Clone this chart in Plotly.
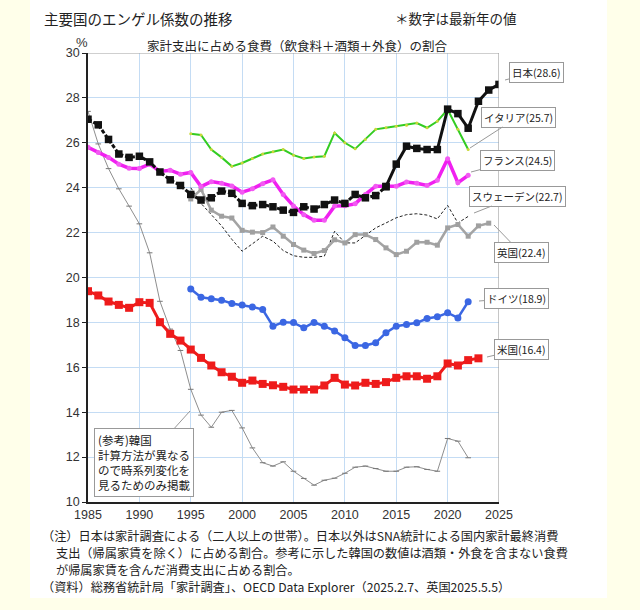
import plotly.graph_objects as go

# ---------------- data ----------------
years_jp = list(range(1985, 2026))
japan = [27.05, 26.8, 26.15, 25.5, 25.35, 25.4, 25.15, 24.7, 24.35, 24.1,
         23.7, 23.45, 23.55, 23.85, 23.75, 23.3, 23.2, 23.25, 23.15, 23.0,
         22.9, 23.15, 23.05, 23.25, 23.45, 23.3, 23.7, 23.55, 23.65, 24.05,
         25.05, 25.85, 25.75, 25.7, 25.7, 27.5, 27.3, 26.65, 27.85, 28.35, 28.6]
jp_split_year = 2014

years_it = list(range(1995, 2023))
italy = [26.4, 26.35, 25.7, 25.35, 24.95, 25.1, 25.3, 25.5, 25.6, 25.7,
         25.45, 25.3, 25.37, 25.4, 26.44, 26.0, 25.73, 26.15, 26.6, 26.67,
         26.74, 26.78, 26.88, 26.67, 26.96, 27.48, 26.6, 25.7]

years_fr = list(range(1985, 2023))
france = [25.8, 25.57, 25.35, 25.05, 24.87, 24.86, 25.05, 24.72, 24.78, 24.6,
          24.68, 24.05, 24.27, 24.2, 24.08, 23.8, 23.95, 24.18, 24.35, 23.7,
          23.18, 22.8, 22.55, 22.55, 23.18, 23.2, 23.28, 23.7, 24.07, 24.07,
          24.07, 24.25, 24.2, 24.1, 24.33, 25.29, 24.22, 24.55]

years_uk = list(range(1995, 2025))
uk = [23.5, 23.92, 23.0, 22.73, 22.65, 22.1, 22.02, 22.0, 22.25, 21.84,
      21.47, 21.22, 21.07, 21.2, 21.68, 21.54, 21.91, 21.91, 21.69, 21.32,
      21.02, 21.17, 21.57, 21.57, 21.44, 22.21, 22.36, 21.84, 22.3, 22.42]

years_se = list(range(1995, 2023))
sweden = [24.0, 23.3, 22.8, 22.3, 21.7, 21.17, 21.5, 21.84, 21.62, 21.2,
          20.97, 20.9, 20.9, 20.95, 22.06, 21.54, 21.54, 21.88, 22.21, 22.43,
          22.66, 22.8, 22.84, 22.78, 22.61, 23.21, 22.43, 22.72]

years_de = list(range(1995, 2023))
germany = [19.49, 19.12, 19.05, 18.99, 18.84, 18.77, 18.69, 18.57, 17.83, 18.01,
           17.99, 17.76, 18.0, 17.83, 17.62, 17.32, 16.97, 16.97, 17.09, 17.54,
           17.83, 17.91, 17.98, 18.17, 18.25, 18.43, 18.2, 18.92]

years_us = list(range(1985, 2024))
usa = [19.39, 19.2, 18.93, 18.78, 18.65, 18.9, 18.87, 18.01, 17.49, 17.19,
       16.79, 16.42, 16.08, 15.78, 15.58, 15.31, 15.41, 15.26, 15.2, 15.13,
       15.01, 15.01, 15.01, 15.19, 15.53, 15.23, 15.19, 15.31, 15.26, 15.34,
       15.53, 15.6, 15.6, 15.49, 15.6, 16.17, 16.08, 16.32, 16.4]

years_kr = list(range(1985, 2023))
korea = [27.4, 25.95, 24.85, 23.95, 23.18, 22.39, 21.1, 18.94, 17.7, 16.75,
         15.02, 13.87, 13.33, 14.0, 14.08, 13.3, 12.41, 11.75, 11.6, 11.79,
         11.37, 11.05, 10.75, 10.97, 11.06, 11.28, 11.55, 11.6, 11.49, 11.37,
         11.37, 11.55, 11.57, 11.45, 11.37, 12.83, 12.71, 11.97]

x_ticks = [1985, 1990, 1995, 2000, 2005, 2010, 2015, 2020, 2025]
y_ticks = [10, 12, 14, 16, 18, 20, 22, 24, 26, 28, 30]

labels = {
    "jp": "日本(28.6)", "it": "イタリア(25.7)", "fr": "フランス(24.5)",
    "se": "スウェーデン(22.7)", "uk": "英国(22.4)", "de": "ドイツ(18.9)",
    "us": "米国(16.4)",
}
korea_note = "(参考)韓国<br>計算方法が異なる<br>ので時系列変化を<br>見るためのみ掲載"
title_main = "主要国のエンゲル係数の推移"
title_right = "＊数字は最新年の値"
subtitle = "家計支出に占める食費（飲食料＋酒類＋外食）の割合"
notes = [
    "（注）日本は家計調査による（二人以上の世帯）。日本以外はSNA統計による国内家計最終消費",
    "支出（帰属家賃を除く）に占める割合。参考に示した韓国の数値は酒類・外食を含まない食費",
    "が帰属家賃を含んだ消費支出に占める割合。",
    "（資料）総務省統計局「家計調査」、OECD Data Explorer（2025.2.7、英国2025.5.5）",
]

# ---------------- layout geometry ----------------
W, H = 640, 610
ML, MR, MT, MB = 88, 141, 53, 108
PW, PH = W - ML - MR, H - MT - MB


def px(x):
    return (x - ML) / PW


def py(y):
    return (H - MB - y) / PH


JFONT = "Noto Sans CJK JP"

fig = go.Figure()

fig.add_trace(go.Scatter(
    x=years_kr, y=korea, mode="lines+markers",
    line=dict(color="#8E8E8E", width=1),
    marker=dict(symbol="line-ew", size=4, line=dict(color="#777", width=1)),
))
fig.add_trace(go.Scatter(
    x=years_se, y=sweden, mode="lines",
    line=dict(color="#222", width=1, dash="3px,2px"),
))
fig.add_trace(go.Scatter(
    x=years_uk, y=uk, mode="lines+markers",
    line=dict(color="#A4A4A4", width=2.5),
    marker=dict(symbol="square", size=5, color="#A0A0A0"),
))
fig.add_trace(go.Scatter(
    x=years_de, y=germany, mode="lines+markers",
    line=dict(color="#3B67E3", width=2.5),
    marker=dict(symbol="circle", size=7, color="#3B67E3"),
))
fig.add_trace(go.Scatter(
    x=years_us, y=usa, mode="lines+markers",
    line=dict(color="#EE1B1B", width=3),
    marker=dict(symbol="square", size=8, color="#EE1B1B"),
))
fig.add_trace(go.Scatter(
    x=years_fr, y=france, mode="lines+markers",
    line=dict(color="#F020F0", width=3.5),
    marker=dict(symbol="circle", size=5, color="#F25AF2"),
))
fig.add_trace(go.Scatter(
    x=years_it, y=italy, mode="lines+markers",
    line=dict(color="#33CC22", width=2),
    marker=dict(symbol="circle", size=3, color="#C9D83A"),
))
k = years_jp.index(jp_split_year)
fig.add_trace(go.Scatter(
    x=years_jp[:k + 1], y=japan[:k + 1], mode="lines+markers",
    line=dict(color="#111", width=3, dash="4px,2px"),
    marker=dict(symbol="square", size=7.5, color="#111"),
))
fig.add_trace(go.Scatter(
    x=years_jp[k:], y=japan[k:], mode="lines+markers",
    line=dict(color="#111", width=3),
    marker=dict(symbol="square", size=7.5, color="#111"),
))

shapes = [
    dict(type="rect", xref="paper", yref="paper", layer="below",
         x0=px(30), x1=px(607), y0=py(598), y1=py(0),
         fillcolor="white", line=dict(width=0)),
    dict(type="line", xref="x", yref="y", x0=1985, x1=2025, y0=30, y1=30,
         line=dict(color="#A0A0A0", width=1.2)),
    dict(type="line", xref="x", yref="y", x0=2025, x1=2025, y0=10, y1=30,
         line=dict(color="#A0A0A0", width=1.2)),
]

ann = []
ann.append(dict(xref="paper", yref="paper", x=px(82), y=py(43), text="%",
                xanchor="center", yanchor="middle",
                showarrow=False, font=dict(family="Liberation Sans", size=13, color="#333")))
ann.append(dict(xref="paper", yref="paper", x=px(42), y=py(18), text=title_main,
                xanchor="left", yanchor="middle", showarrow=False,
                font=dict(family=JFONT, size=14.5, color="#222")))
ann.append(dict(xref="paper", yref="paper", x=px(393), y=py(18), text=title_right,
                xanchor="left", yanchor="middle", showarrow=False,
                font=dict(family=JFONT, size=13.5, color="#222")))
ann.append(dict(xref="paper", yref="paper", x=px(297), y=py(45), text=subtitle,
                xanchor="center", yanchor="middle", showarrow=False,
                font=dict(family=JFONT, size=12.5, color="#222")))
note_pos = [(40, 536), (54, 553), (54, 570), (40, 587)]
for (nx, ny), t in zip(note_pos, notes):
    ann.append(dict(xref="paper", yref="paper", x=px(nx), y=py(ny), text=t,
                    xanchor="left", yanchor="middle", showarrow=False,
                    font=dict(family=JFONT, size=12.2, color="#222")))

callouts = [
    ("jp", 505, 80, 31, -8),
    ("it", 470, 148, 48, -31),
    ("fr", 471, 172, 46, -12),
    ("se", 474, 213, 43, -17),
    ("uk", 494, 225, 27, 28),
    ("de", 479, 301, 37, -3),
    ("us", 487, 357, 34, -8),
]
for key, tx, ty, dx, dy in callouts:
    ann.append(dict(xref="paper", yref="paper", x=px(tx), y=py(ty), text=labels[key],
                    showarrow=True, arrowhead=0, arrowwidth=1, arrowcolor="#999",
                    ax=dx, ay=dy, standoff=0, bgcolor="white", bordercolor="#999",
                    borderwidth=1, borderpad=2,
                    font=dict(family=JFONT, size=10.5, color="#222")))
ann.append(dict(xref="paper", yref="paper", x=px(190), y=py(411), text=korea_note,
                showarrow=True, arrowhead=0, arrowwidth=1, arrowcolor="#999",
                ax=-46, ay=51, standoff=0, bgcolor="white", bordercolor="#999",
                borderwidth=1, borderpad=3, align="left",
                font=dict(family=JFONT, size=11.5, color="#222")))

fig.update_layout(
    width=W, height=H,
    margin=dict(l=ML, r=MR, t=MT, b=MB, pad=0),
    paper_bgcolor="#FFFFEA",
    plot_bgcolor="white",
    showlegend=False,
    shapes=shapes,
    annotations=ann,
    xaxis=dict(range=[1985, 2025], tickvals=x_ticks, showgrid=True,
               gridcolor="#C4DCF4", gridwidth=1, zeroline=False,
               showline=True, linecolor="#222", linewidth=1.5, ticks="",
               tickfont=dict(family="Liberation Sans", size=12.5, color="#333")),
    yaxis=dict(range=[10, 30], tickvals=y_ticks, showgrid=True,
               gridcolor="#C4DCF4", gridwidth=1, zeroline=False,
               showline=True, linecolor="#222", linewidth=1.5,
               ticks="outside", ticklen=4, tickcolor="#222",
               tickfont=dict(family="Liberation Sans", size=12.5, color="#333")),
)

fig.write_html("out.html")
